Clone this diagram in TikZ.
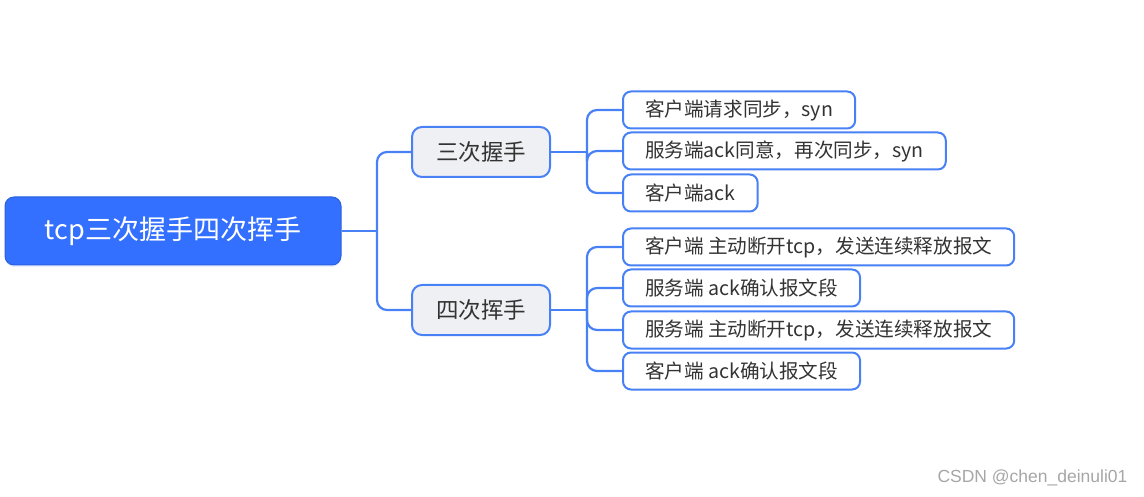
\documentclass[tikz,border=0pt]{standalone}
\usepackage{fontspec}
\setmainfont{Noto Sans CJK SC}
\newfontfamily\wmfont{Liberation Sans}
\usetikzlibrary{shadows}
\definecolor{rootblue}{RGB}{51,112,255}
\definecolor{rootedge}{RGB}{43,96,222}
\definecolor{linkblue}{RGB}{72,128,246}
\definecolor{midgray}{RGB}{239,240,243}
\definecolor{txtgray}{RGB}{51,51,51}

\begin{document}
\begin{tikzpicture}[x=1pt, y=-1pt,
    root/.style={draw=rootedge, line width=1pt, fill=rootblue, rounded corners=9pt,
      minimum width=336pt, minimum height=68pt, text=white, font=\fontsize{27}{32}\selectfont,
      drop shadow={shadow xshift=0pt, shadow yshift=-2pt, opacity=0.12, fill=rootblue}},
    mid/.style={draw=linkblue, line width=2pt, fill=midgray, rounded corners=10pt,
      minimum width=138pt, minimum height=50pt, text=txtgray, font=\fontsize{22.5}{27}\selectfont},
    leaf/.style={draw=linkblue, line width=2pt, fill=white, rounded corners=8pt, anchor=west,
      inner xsep=22pt, minimum height=37pt, text=txtgray, font=\fontsize{19.6}{23}\selectfont},
    link/.style={draw=linkblue, line width=2.2pt, rounded corners=10pt}]
  \useasboundingbox (0,0) rectangle (1144,497);
  \node[root] (r) at (173, 231) {tcp三次握手四次挥手};
  \node[mid] (s) at (481, 152) {三次握手};
  \node[mid] (h) at (481, 310) {四次挥手};
  \node[leaf] (s1) at (622, 110) {客户端请求同步，syn};
  \node[leaf] (s2) at (622, 151) {服务端ack同意，再次同步，syn};
  \node[leaf] (s3) at (622, 193) {客户端ack};
  \node[leaf] (h1) at (622, 247) {客户端 主动断开tcp，发送连续释放报文};
  \node[leaf] (h2) at (622, 288) {服务端 ack确认报文段};
  \node[leaf] (h3) at (622, 330) {服务端 主动断开tcp，发送连续释放报文};
  \node[leaf] (h4) at (622, 371) {客户端 ack确认报文段};
  \coordinate (rj) at (377, 231);
  \coordinate (sj) at (587, 152);
  \coordinate (hj) at (587, 310);
  % root to both branches
  \draw[link] (r.east) -- (rj);
  \draw[link] (s.west) -| (rj);
  \draw[link] (h.west) -| (rj);
  % three-way handshake
  \draw[link] (s.east) -- (sj);
  \foreach \n in {s1,s2,s3}
    \draw[link] (\n.west) -| (sj);
  % four-way wave
  \draw[link] (h.east) -- (hj);
  \foreach \n in {h1,h2,h3,h4}
    \draw[link] (\n.west) -| (hj);
  \node[text=gray!70, font=\wmfont\fontsize{17.5}{21}\selectfont, anchor=east] (wm) at (1131, 478) {CSDN @chen\_deinuli01};
\end{tikzpicture}
\end{document}
